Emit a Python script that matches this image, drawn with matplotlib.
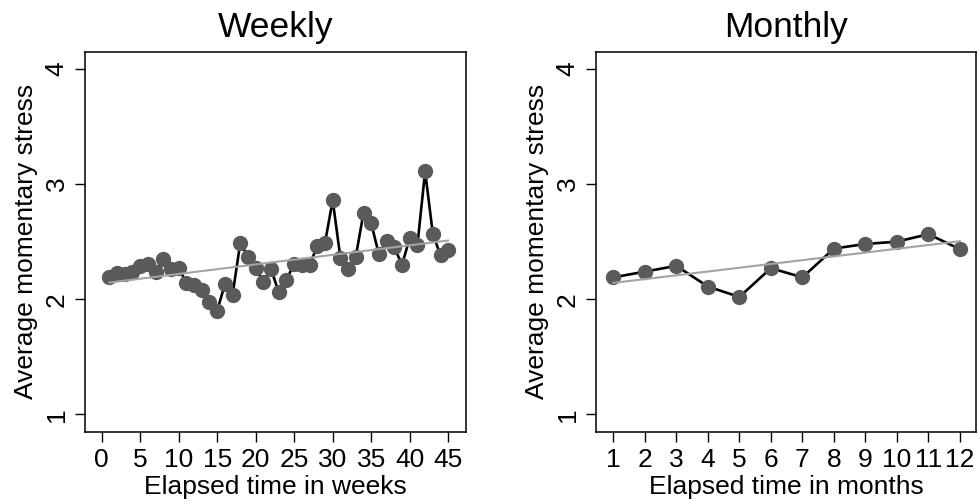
import matplotlib
matplotlib.use("Agg")
import matplotlib.pyplot as plt

plt.rcParams["font.family"] = ["Liberation Sans", "DejaVu Sans"]

# Average momentary stress per elapsed week
weeks = list(range(1, 46))
weekly_stress = [
    2.19, 2.23, 2.22, 2.24, 2.29, 2.31, 2.24, 2.35, 2.26, 2.27,
    2.14, 2.12, 2.08, 1.98, 1.90, 2.13, 2.04, 2.49, 2.37, 2.27,
    2.15, 2.26, 2.06, 2.17, 2.31, 2.30, 2.30, 2.46, 2.49, 2.86,
    2.36, 2.26, 2.37, 2.75, 2.66, 2.39, 2.51, 2.45, 2.30, 2.53,
    2.47, 3.11, 2.57, 2.38, 2.43,
]
weekly_trend_x = [1, 45]
weekly_trend_y = [2.145, 2.51]

# Average momentary stress per elapsed month
months = list(range(1, 13))
monthly_stress = [2.19, 2.24, 2.29, 2.11, 2.02, 2.27, 2.19, 2.44, 2.48, 2.50, 2.565, 2.435]
monthly_trend_x = [1, 12]
monthly_trend_y = [2.142, 2.504]

weekly_ticks = [0, 5, 10, 15, 20, 25, 30, 35, 40, 45]
monthly_ticks = list(range(1, 13))
y_ticks = [1, 2, 3, 4]

POINT = "#5a5a5a"
TREND = "#a3a3a3"

fig = plt.figure(figsize=(9.8, 5.04), dpi=100)
ax_w = fig.add_axes([0.0870, 0.1435, 0.3882, 0.754])
ax_m = fig.add_axes([0.6085, 0.1435, 0.3874, 0.754])


def draw_panel(ax, x, y, tx, ty, title, xlabel, xticks, xlim):
    ax.plot(x, y, color="black", lw=1.9, zorder=2)
    ax.plot(x, y, "o", ms=10, color=POINT, mec=POINT, zorder=3)
    ax.plot(tx, ty, color=TREND, lw=1.5, zorder=4)
    ax.set_xlim(*xlim)
    ax.set_ylim(0.85, 4.15)
    ax.set_xticks(xticks)
    ax.set_yticks(y_ticks)
    ax.set_yticklabels([str(v) for v in y_ticks], rotation=90, va="center")
    ax.tick_params(axis="both", direction="out", length=7.2, width=1.0,
                   labelsize=19, color="black")
    ax.tick_params(axis="x", pad=4.5)
    ax.tick_params(axis="y", pad=4.7)
    for s in ax.spines.values():
        s.set_linewidth(1.1)
        s.set_color("black")
    ax.set_title(title, fontsize=25.5, y=1.0395, pad=0)
    ax.set_xlabel(xlabel, fontsize=19)
    ax.set_ylabel("Average momentary stress", fontsize=19)
    ax.xaxis.set_label_coords(0.5, -0.115)
    ax.yaxis.set_label_coords(-0.124, 0.5)


draw_panel(ax_w, weeks, weekly_stress, weekly_trend_x, weekly_trend_y,
           "Weekly", "Elapsed time in weeks", weekly_ticks, (-2.13, 47.27))
draw_panel(ax_m, months, monthly_stress, monthly_trend_x, monthly_trend_y,
           "Monthly", "Elapsed time in months", monthly_ticks, (0.46, 12.51))

fig.savefig("out.png", dpi=100)
